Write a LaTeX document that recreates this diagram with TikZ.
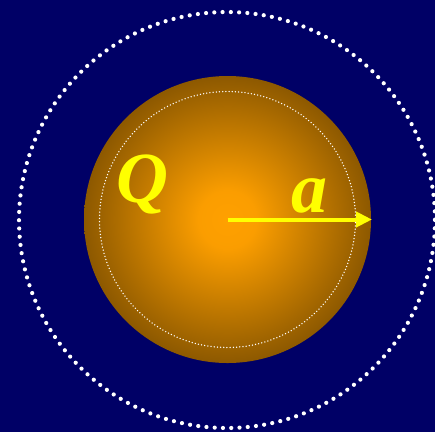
\documentclass[tikz,border=0pt]{standalone}
\usepackage{fontspec}
\setmainfont{Liberation Serif}
\usetikzlibrary{arrows.meta}
\definecolor{bgnavy}{RGB}{0,0,102}
\definecolor{ballcore}{RGB}{255,160,0}
\definecolor{balledge}{RGB}{108,68,0}
\definecolor{labelyellow}{RGB}{255,255,0}
\pgfdeclareradialshading{ballshade}{\pgfpoint{0bp}{0bp}}{color(0bp)=(ballcore); color(5bp)=(ballcore!97!balledge); color(31bp)=(balledge); color(50bp)=(balledge)}
\tikzset{
  bigdots/.style={draw=white, line width=4.2pt, line cap=round, dash pattern=on 0pt off 8.27pt},
  smalldots/.style={draw=white, line width=1.5pt, line cap=round, dash pattern=on 0pt off 3.2pt},
  lbl/.style={text=labelyellow, font=\fontsize{72}{72}\selectfont\bfseries\itshape, inner sep=0pt, anchor=base},
  radius arrow/.style={draw=labelyellow, line width=4pt, -{Triangle[length=16pt,width=15pt]}}
}
\begin{document}
\begin{tikzpicture}[x=1pt,y=-1pt]
  \fill[bgnavy] (0,0) rectangle (435,432);
  \useasboundingbox (0,0) rectangle (435,432);
  \coordinate (c) at (227.5,219.5);
  \coordinate (e) at (372,219.5);
  \path[bigdots] (227,220) circle[radius=208];
  \shade[shading=ballshade] (c) circle[radius=143.5];
  \path[smalldots] (c) circle[radius=128];
  \draw[radius arrow] (c) -- (e);
  \node[lbl] (q) at (142,202) {Q};
  \node[lbl] (a) at (309,212) {a};
\end{tikzpicture}
\end{document}
